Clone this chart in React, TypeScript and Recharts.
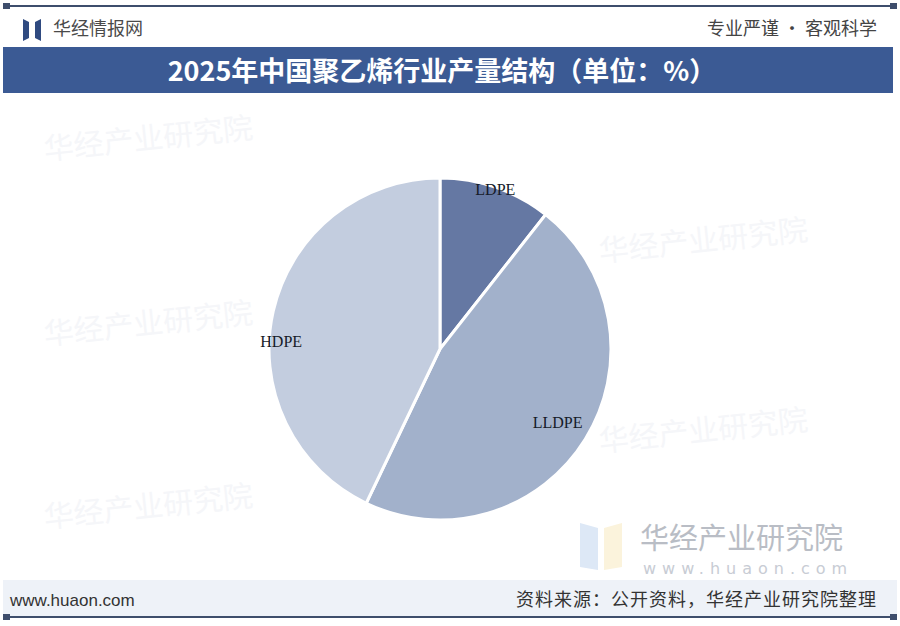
import React from 'react';
import { PieChart, Pie, Cell } from 'recharts';

const categories = ['LDPE', 'LLDPE', 'HDPE'];
const shares = [10.6, 46.5, 42.9];
const sliceColors = ['#6578a3', '#a2b1cb', '#c3cddf'];

const titleText = '2025年中国聚乙烯行业产量结构（单位：%）';
const brandText = '华经情报网';
const sloganText = '专业严谨 • 客观科学';
const siteText = 'www.huaon.com';
const sourceText = '资料来源：公开资料，华经产业研究院整理';
const watermarkText = '华经产业研究院';

// where each label sits: fraction of outer radius, angle nudge in degrees
const labelPlacement = [
  { r: 0.99, da: 0 },
  { r: 0.81, da: 0 },
  { r: 0.93, da: 10 },
];

const data = categories.map((name, i) => ({ name, value: shares[i] }));

const RADIAN = Math.PI / 180;
const CJK = '"Noto Sans CJK SC", "Noto Sans", sans-serif';

const renderLabel = (props: any) => {
  const { cx, cy, midAngle, outerRadius, index, name } = props;
  const p = labelPlacement[index];
  const a = (midAngle + p.da) * RADIAN;
  const r = outerRadius * p.r;
  const x = cx + r * Math.cos(-a);
  const y = cy + r * Math.sin(-a);
  return (
    <text
      x={x}
      y={y}
      textAnchor="middle"
      dominantBaseline="central"
      fill="#151a28"
      fontFamily='"Liberation Serif", serif'
      fontSize={16}
      style={{ fontFamily: '"Liberation Serif", serif', fontSize: 16 }}
    >
      {name}
    </text>
  );
};

const Frame: React.FC = () => (
  <svg width={900} height={626} style={{ position: 'absolute', left: 0, top: 0 }}>
    <rect x={0} y={0} width={900} height={626} fill="#ffffff" />
    {/* top rule */}
    <rect x={3} y={5} width={894} height={2} fill="#3e4e6c" />
    <rect x={3} y={3} width={7} height={6} fill="#3e4e6c" />
    <rect x={890} y={3} width={7} height={6} fill="#3e4e6c" />

    {/* brand logo */}
    <polygon points="23,19 29,22 29,38 23,41" fill="#2f4a80" />
    <polygon points="35,22 41,19 41,41 35,38" fill="#2f4a80" />
    <text x={53} y={35} fontSize={18} fill="#4a4a4a" fontFamily={CJK}>{brandText}</text>
    <text x={877} y={35} fontSize={18} fill="#444" textAnchor="end" fontFamily={CJK}>{sloganText}</text>

    {/* title bar */}
    <rect x={3} y={47} width={890} height={46} fill="#3b5a94" />
    <text x={442} y={81} fontSize={27} fontWeight="bold" fill="#ffffff" textAnchor="middle" fontFamily={CJK}>
      {titleText}
    </text>

    {/* faint watermarks */}
    <g fill="#f5f6f9" fontSize={30} fontFamily={CJK}>
      <text x={45} y={160} transform="rotate(-6 45 160)">{watermarkText}</text>
      <text x={45} y={345} transform="rotate(-6 45 345)">{watermarkText}</text>
      <text x={45} y={528} transform="rotate(-6 45 528)">{watermarkText}</text>
      <text x={600} y={262} transform="rotate(-6 600 262)">{watermarkText}</text>
      <text x={600} y={452} transform="rotate(-6 600 452)">{watermarkText}</text>
    </g>

    {/* bottom-right watermark */}
    <polygon points="580,523 598,528 598,570 580,567" fill="#dde8f6" />
    <polygon points="604,528 622,523 622,567 604,570" fill="#fbf3dc" />
    <text x={640} y={549} fontSize={29} fill="#b9bdc5" fontFamily={CJK}>{watermarkText}</text>
    <text x={643} y={574} fontSize={16} fill="#c8ccd4" letterSpacing={6} fontFamily='"DejaVu Sans", sans-serif'>
      {siteText}
    </text>

    {/* footer */}
    <rect x={3} y={580} width={894} height={36} fill="#eef2f8" />
    <text x={10} y={606} fontSize={17} fill="#333" fontFamily='"Liberation Sans", Arial, sans-serif'>{siteText}</text>
    <text x={877} y={606} fontSize={18} fill="#333" textAnchor="end" letterSpacing={1} fontFamily={CJK}>{sourceText}</text>
    <rect x={3} y={616} width={894} height={2} fill="#3e4e6c" />
    <rect x={3} y={614} width={7} height={6} fill="#3e4e6c" />
    <rect x={890} y={614} width={7} height={6} fill="#3e4e6c" />
  </svg>
);

export default function App() {
  return (
    <div style={{ position: 'absolute', left: 0, top: 0, width: 900, height: 626, overflow: 'hidden' }}>
      <Frame />
      <div style={{ position: 'absolute', left: 0, top: 0 }}>
        <PieChart width={900} height={626} margin={{ top: 0, right: 0, bottom: 0, left: 0 }}>
          <Pie
            data={data}
            dataKey="value"
            nameKey="name"
            cx={440}
            cy={349}
            outerRadius={171}
            startAngle={90}
            endAngle={-270}
            stroke="#ffffff"
            strokeWidth={3}
            label={renderLabel}
            labelLine={false}
            isAnimationActive={false}
          >
            {data.map((d, i) => (
              <Cell key={d.name} fill={sliceColors[i]} />
            ))}
          </Pie>
        </PieChart>
      </div>
    </div>
  );
}
